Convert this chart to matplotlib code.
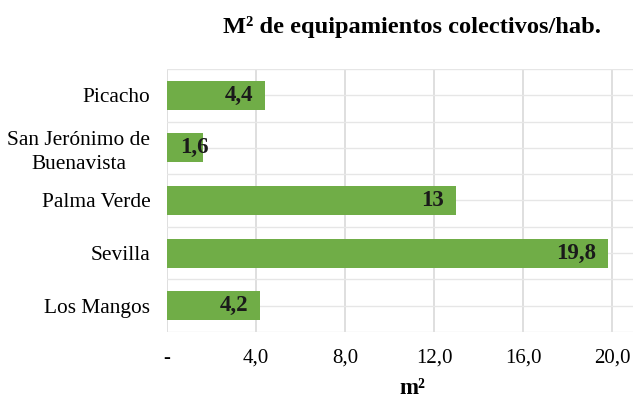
import matplotlib
matplotlib.use("Agg")
import matplotlib.pyplot as plt
from matplotlib.transforms import offset_copy

categories = ["Picacho", "San Jerónimo de\nBuenavista", "Palma Verde", "Sevilla", "Los Mangos"]
values = [4.4, 1.6, 13.0, 19.8, 4.2]
value_labels = ["4,4", "1,6", "13", "19,8", "4,2"]
xticks = [0, 4, 8, 12, 16, 20]
xtick_labels = ["-", "4,0", "8,0", "12,0", "16,0", "20,0"]

plt.rcParams["font.family"] = ["Liberation Serif", "DejaVu Serif"]

fig = plt.figure(figsize=(6.33, 4.0), dpi=100)
ax = fig.add_axes([0.2638, 0.17, 0.7362, 0.6575])

green = "#70AD47"
ypos = list(range(len(categories)))
ax.barh(ypos, values, height=0.55, color=green, zorder=3)

ax.set_xlim(0, 20.94)
ax.set_ylim(len(categories) - 0.5, -0.5)

# light grid: vertical at ticks, horizontal at every half category
for x in xticks:
    ax.axvline(x, color="#d9d9d9", lw=1.2, zorder=1)
for k in range(2 * len(categories) + 1):
    ax.axhline(-0.5 + 0.5 * k, color="#e6e6e6", lw=1.0, zorder=1)

for s in ax.spines.values():
    s.set_visible(False)

ax.set_yticks(ypos)
ax.set_yticklabels(categories, fontsize=15.4, multialignment="center")
for t in ax.get_yticklabels():
    t.set_linespacing(1.35)
ax.set_xticks(xticks)
ax.set_xticklabels(xtick_labels, fontsize=15)
ax.tick_params(axis="both", length=0)
ax.tick_params(axis="y", pad=12)
ax.tick_params(axis="x", pad=12)

# value labels at the inner end of each bar
for y, v, lab in zip(ypos, values, value_labels):
    if v < 2.5:
        tr = offset_copy(ax.transData, fig=fig, x=-8, y=0, units="dots")
        ax.text(v, y, lab, transform=tr, ha="center", va="center",
                fontsize=16.5, fontweight="bold", color="#1a1a1a", zorder=4)
    else:
        tr = offset_copy(ax.transData, fig=fig, x=-12, y=0, units="dots")
        ax.text(v, y, lab, transform=tr, ha="right", va="center",
                fontsize=16.5, fontweight="bold", color="#1a1a1a", zorder=4)

fig.text(412 / 633, 1 - 394 / 400, "m²", ha="center", va="baseline",
         fontsize=16.5, fontweight="bold")

fig.text(412 / 633, 1 - 33 / 400, "M² de equipamientos colectivos/hab.",
         ha="center", va="baseline", fontsize=17.6, fontweight="bold")

fig.savefig("out.png", dpi=100)
